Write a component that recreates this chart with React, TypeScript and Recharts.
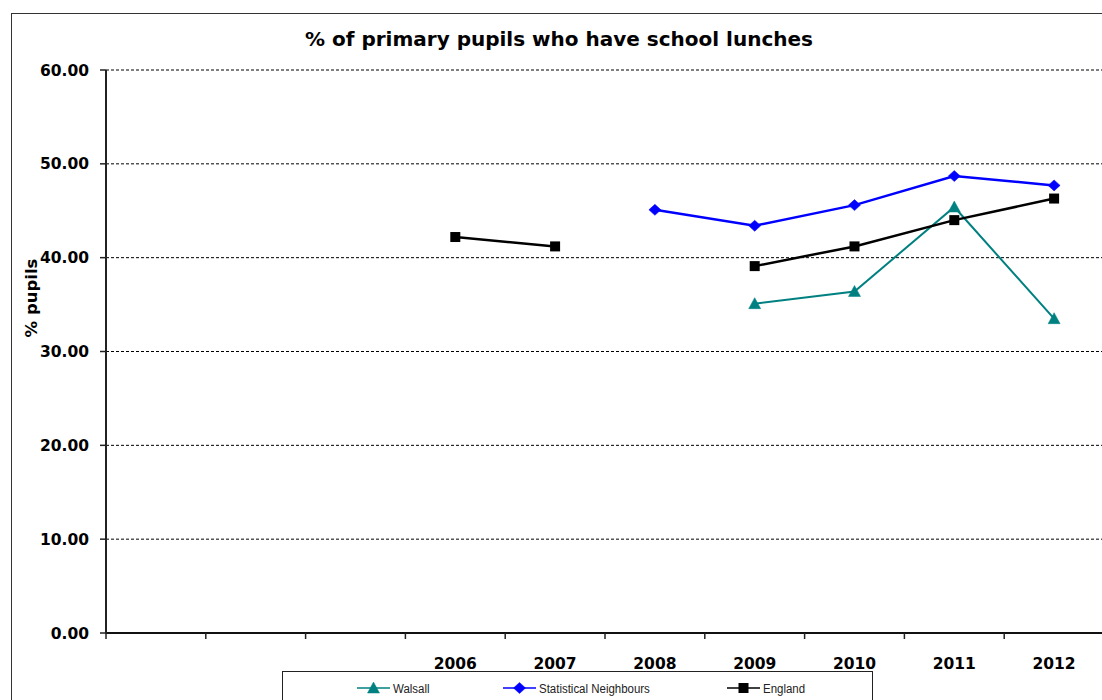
import React from 'react';
import { LineChart, Line, XAxis, YAxis, CartesianGrid, Legend } from 'recharts';

// ---- data ----
const categories = ['', '', '', '2006', '2007', '2008', '2009', '2010', '2011', '2012'];
const walsall = [null, null, null, null, null, null, 35.1, 36.4, 45.4, 33.5];
const statNeighbours = [null, null, null, null, null, 45.1, 43.4, 45.6, 48.7, 47.7];
const england = [null, null, null, 42.2, 41.2, null, 39.1, 41.2, 44.0, 46.3];
const yTicks = [0, 10, 20, 30, 40, 50, 60];
const seriesOrder = ['walsall', 'sn', 'england'];
const seriesNames = { walsall: 'Walsall', sn: 'Statistical Neighbours', england: 'England' };

const data = categories.map((c, i) => ({
  year: c,
  walsall: walsall[i],
  sn: statNeighbours[i],
  england: england[i],
}));

// ---- layout ----
const CHART_W = 1110;
const CHART_H = 700;
const MARGIN = { top: 70, right: 6, left: 0, bottom: 37 };
const Y_AXIS_W = 106;
const X_AXIS_H = 30;
const PLOT_LEFT = MARGIN.left + Y_AXIS_W;
const PLOT_RIGHT = CHART_W - MARGIN.right;
const PLOT_BOTTOM = CHART_H - MARGIN.bottom - X_AXIS_H;
const BAND = (PLOT_RIGHT - PLOT_LEFT) / categories.length;

const FONT = '"DejaVu Sans", Verdana, sans-serif';
const LEGEND_FONT = '"Liberation Sans", Arial, sans-serif';

const COLORS = { walsall: '#008080', sn: '#0000FF', england: '#000000' };
const SHAPES: Record<string, string> = { walsall: 'triangle', sn: 'diamond', england: 'square' };

function Marker({ shape, cx, cy, color }: { shape: string; cx: number; cy: number; color: string }) {
  if (shape === 'triangle') {
    return <polygon points={`${cx},${cy - 6} ${cx - 6},${cy + 5} ${cx + 6},${cy + 5}`} fill={color} stroke={color} strokeWidth={0.5} />;
  }
  if (shape === 'diamond') {
    return <polygon points={`${cx},${cy - 5.5} ${cx + 6},${cy} ${cx},${cy + 5.5} ${cx - 6},${cy}`} fill={color} stroke={color} strokeWidth={0.5} />;
  }
  return <rect x={cx - 5} y={cy - 5} width={10} height={10} fill={color} />;
}

const makeDot = (key: string) => (props: any) => {
  const { cx, cy, index, value } = props;
  if (cx == null || cy == null || value == null || Number.isNaN(cy)) return <g key={`${key}-${index}`} />;
  return (
    <g key={`${key}-${index}`}>
      <Marker shape={SHAPES[key]} cx={cx} cy={cy} color={COLORS[key as keyof typeof COLORS]} />
    </g>
  );
};

const XTick = (props: any) => {
  const { x, payload } = props;
  return (
    <g>
      <line x1={x - BAND / 2} x2={x - BAND / 2} y1={PLOT_BOTTOM} y2={PLOT_BOTTOM + 6} stroke="#222" strokeWidth={1.5} />
      <text x={x} y={PLOT_BOTTOM + 25} dy="0.71em" textAnchor="middle" fontFamily={FONT} fontWeight="bold" fontSize={15.5} fill="#000">
        {payload.value}
      </text>
    </g>
  );
};

const YLabel = () => (
  <text
    x={31}
    y={298}
    transform="rotate(-90 31 298)"
    textAnchor="middle"
    dominantBaseline="central"
    fontFamily={FONT}
    fontWeight="bold"
    fontSize={16.5}
    fill="#000"
  >
    % pupils
  </text>
);

const LEGEND_ITEM_X = [74, 220, 444];

const LegendContent = (props: any) => {
  const payload = ((props.payload || []) as any[])
    .slice()
    .sort((a, b) => seriesOrder.indexOf(a.dataKey) - seriesOrder.indexOf(b.dataKey));
  return (
    <svg width={591} height={40} style={{ display: 'block' }}>
      {payload.map((p, i) => {
        const key = p.dataKey as string;
        const x0 = LEGEND_ITEM_X[i];
        const color = COLORS[key as keyof typeof COLORS];
        const tx = x0 + 36;
        return (
          <g key={key}>
            <line x1={x0} x2={x0 + 33} y1={16} y2={16} stroke={color} strokeWidth={1.5} />
            <Marker shape={SHAPES[key]} cx={x0 + 16.5} cy={16} color={color} />
            <text
              x={tx}
              y={17}
              transform={`translate(${tx} 0) scale(0.85 1) translate(${-tx} 0)`}
              dominantBaseline="central"
              fontFamily={LEGEND_FONT}
              fontSize={13.5}
              fill="#222"
            >
              {p.value}
            </text>
          </g>
        );
      })}
    </svg>
  );
};

export default function App() {
  return (
    <div style={{ position: 'absolute', left: 0, top: 0, width: 1102, height: 700, overflow: 'hidden', background: '#fff' }}>
      <div
        style={{
          position: 'absolute',
          left: 11,
          top: 13,
          width: 1200,
          height: 800,
          border: '1px solid #333',
          boxSizing: 'border-box',
        }}
      />
      <div
        style={{
          position: 'absolute',
          left: 0,
          top: 27,
          width: 1118,
          textAlign: 'center',
          fontFamily: FONT,
          fontWeight: 'bold',
          fontSize: 20,
          lineHeight: 'normal',
          color: '#000',
          whiteSpace: 'nowrap',
        }}
      >
        % of primary pupils who have school lunches
      </div>
      <div style={{ position: 'absolute', left: 0, top: 0 }}>
        <LineChart width={CHART_W} height={CHART_H} data={data} margin={MARGIN}>
          <CartesianGrid horizontal vertical={false} stroke="#000" strokeDasharray="3 2" strokeWidth={1} />
          <XAxis
            dataKey="year"
            type="category"
            allowDuplicatedCategory
            padding={{ left: BAND / 2, right: BAND / 2 }}
            height={X_AXIS_H}
            axisLine={{ stroke: '#111', strokeWidth: 2 }}
            tickLine={false}
            tickSize={6}
            tickMargin={19}
            interval={0}
            tick={<XTick />}
          />
          <YAxis
            width={Y_AXIS_W}
            domain={[0, 60]}
            ticks={yTicks}
            interval={0}
            tickFormatter={(v: number) => v.toFixed(2)}
            axisLine={{ stroke: '#222', strokeWidth: 2 }}
            tickLine={{ stroke: '#222', strokeWidth: 1.5 }}
            tickSize={6}
            tickMargin={11}
            tick={{ fontFamily: FONT, fontWeight: 'bold', fontSize: 15.5, fill: '#000' }}
            label={{ content: <YLabel /> }}
          />
          <Legend
            layout="horizontal"
            verticalAlign="middle"
            align="center"
            content={<LegendContent />}
            wrapperStyle={{
              left: 282,
              top: 671,
              width: 591,
              height: 40,
              border: '1px solid #222',
              boxSizing: 'border-box',
              background: '#fff',
            }}
          />
          <Line
            dataKey="walsall"
            name={seriesNames.walsall}
            stroke={COLORS.walsall}
            strokeWidth={2}
            dot={makeDot('walsall')}
            activeDot={false}
            connectNulls={false}
            isAnimationActive={false}
          />
          <Line
            dataKey="sn"
            name={seriesNames.sn}
            stroke={COLORS.sn}
            strokeWidth={2.5}
            dot={makeDot('sn')}
            activeDot={false}
            connectNulls={false}
            isAnimationActive={false}
          />
          <Line
            dataKey="england"
            name={seriesNames.england}
            stroke={COLORS.england}
            strokeWidth={2.5}
            dot={makeDot('england')}
            activeDot={false}
            connectNulls={false}
            isAnimationActive={false}
          />
        </LineChart>
      </div>
    </div>
  );
}
